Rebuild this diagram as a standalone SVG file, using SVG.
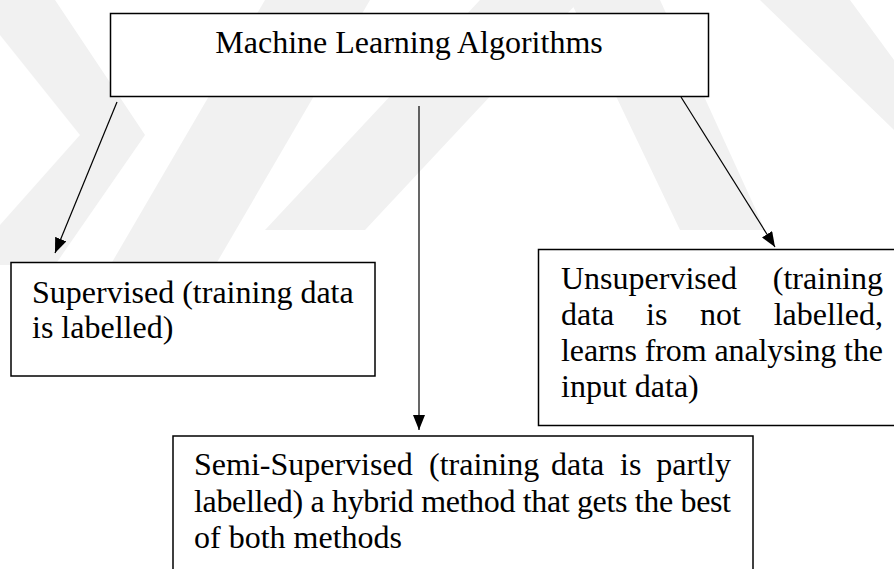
<svg xmlns="http://www.w3.org/2000/svg" width="894" height="569" viewBox="0 0 894 569">
  <style>
    .wm { fill: #f1f1f1; }
    .box { fill: #ffffff; stroke: #000000; stroke-width: 1.5; }
    .t { font-family: "Liberation Serif", "Times New Roman", serif; font-size: 32px; fill: #000000; }
    .conn { stroke: #000000; stroke-width: 1.2; fill: none; marker-end: url(#arrow); }
  </style>
  <defs>
    <marker id="arrow" markerUnits="userSpaceOnUse" markerWidth="16" markerHeight="12" refX="15" refY="6" orient="auto">
      <path d="M0,0 L15,6 L0,12 z" fill="#000000"/>
    </marker>
  </defs>
  <rect width="894" height="569" fill="#ffffff"/>
  <g id="watermark">
    <polygon class="wm" points="0,0 55,0 145,135 55,265 0,265 0,225 80,135 0,35"/>
    <polygon class="wm" points="90,300 195,300 370,0 265,0"/>
    <polygon class="wm" points="265,230 365,230 580,0 480,0"/>
    <polygon class="wm" points="570,0 660,0 765,230 680,230"/>
    <polygon class="wm" points="760,0 850,0 894,60 894,130"/>
  </g>
  <g id="connectors">
    <line class="conn" x1="117" y1="102" x2="55" y2="253"/>
    <line class="conn" x1="419" y1="106" x2="419" y2="430"/>
    <line class="conn" x1="681" y1="97" x2="775" y2="247"/>
  </g>
  <g id="root">
    <rect class="box" x="110.5" y="13.5" width="598" height="83"/>
    <text class="t" x="409" y="53" text-anchor="middle">Machine Learning Algorithms</text>
  </g>
  <g id="supervised">
    <rect class="box" x="11" y="262.5" width="364" height="113.5"/>
    <text class="t" x="32" y="303">Supervised (training data</text>
    <text class="t" x="32" y="338">is labelled)</text>
  </g>
  <g id="unsupervised">
    <rect class="box" x="538.5" y="249.5" width="370" height="176"/>
    <text class="t" x="561" y="289">Unsupervised</text>
    <text class="t" x="883" y="289" text-anchor="end">(training</text>
    <text class="t" x="561" y="325">data</text>
    <text class="t" x="646" y="325">is</text>
    <text class="t" x="700" y="325">not</text>
    <text class="t" x="883" y="325" text-anchor="end">labelled,</text>
    <text class="t" x="561" y="361" textLength="322" lengthAdjust="spacing">learns from analysing the</text>
    <text class="t" x="561" y="397">input data)</text>
  </g>
  <g id="semi-supervised">
    <rect class="box" x="173" y="436" width="580" height="150"/>
    <text class="t" x="194" y="475">Semi-Supervised</text>
    <text class="t" x="429" y="475">(training</text>
    <text class="t" x="551" y="475">data</text>
    <text class="t" x="620" y="475">is</text>
    <text class="t" x="731" y="475" text-anchor="end">partly</text>
    <text class="t" x="194" y="512" textLength="537" lengthAdjust="spacing">labelled) a hybrid method that gets the best</text>
    <text class="t" x="194" y="548">of both methods</text>
  </g>
</svg>
